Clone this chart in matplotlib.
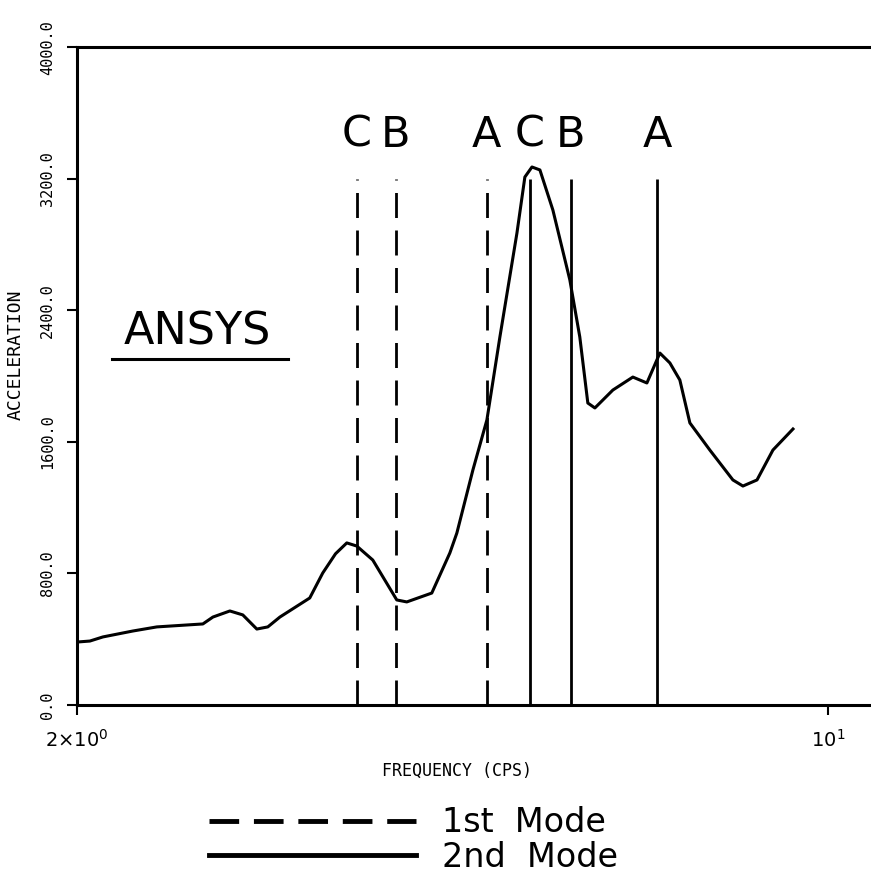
import matplotlib
matplotlib.use("Agg")
import matplotlib.pyplot as plt
from matplotlib.lines import Line2D

# response curve (frequency in cps, acceleration)
freq = [2.0, 2.056, 2.114, 2.254, 2.373, 2.619, 2.676, 2.775, 2.853, 2.940, 3.010,
        3.089, 3.293, 3.386, 3.480, 3.565, 3.642, 3.769, 3.968, 4.054, 4.277, 4.446, 4.513,
        4.671, 4.813, 4.949, 5.133, 5.221, 5.301, 5.392, 5.544, 5.749, 5.873, 5.975,
        6.066, 6.304, 6.580, 6.781, 6.972, 7.123, 7.277, 7.435, 7.760, 8.153, 8.330,
        8.585, 8.883, 9.273]
accel = [383, 389, 414, 450, 475, 493, 535, 572, 548, 462, 475,
         535, 651, 803, 920, 986, 967, 882, 639, 627, 681, 925, 1046,
         1430, 1734, 2239, 2871, 3212, 3273, 3255, 3011, 2586, 2239, 1837,
         1807, 1916, 1995, 1959, 2141, 2081, 1977, 1716, 1551, 1369, 1332,
         1369, 1551, 1679]

# mode frequencies for cases A, B, C
mode1_freq = [3.64, 3.96, 4.81]
mode1_lab = ['C', 'B', 'A']
mode2_freq = [5.28, 5.76, 6.93]
mode2_lab = ['C', 'B', 'A']
line_top = 3200

yticks = [0, 800, 1600, 2400, 3200, 4000]
ytick_labels = ['0.0', '800.0', '1600.0', '2400.0', '3200.0', '4000.0']
xticks = [2, 10]
xtick_labels = [r'$2{\times}10^{0}$', r'$10^{1}$']

fig = plt.figure(figsize=(8.71, 8.86), dpi=100)
ax = fig.add_axes([0.0884, 0.2043, 0.9116, 0.7421])

ax.plot(freq, accel, color='black', lw=2.2, solid_joinstyle='round')
ax.vlines(mode1_freq, 0, line_top, colors='black', lw=2, linestyles=(0, (9, 4.5)))
ax.vlines(mode2_freq, 0, line_top, colors='black', lw=2)

for f, s in zip(mode1_freq + mode2_freq, mode1_lab + mode2_lab):
    ax.text(f, 3470, s, ha='center', va='center', fontsize=31, family='DejaVu Sans')

ax.set_xscale('log')
ax.set_xlim(2, 10.96)
ax.set_ylim(0, 4000)
ax.set_xticks(xticks)
ax.set_xticklabels(xtick_labels, fontsize=14)
ax.minorticks_off()
ax.set_yticks(yticks)
ax.set_yticklabels(ytick_labels, rotation=90, va='center', fontsize=11, family='DejaVu Sans Mono')
ax.tick_params(axis='y', direction='out', length=7, width=1.5, pad=9)
ax.tick_params(axis='x', direction='out', length=7, width=1.5, pad=10)

for side in ['left', 'top', 'bottom']:
    ax.spines[side].set_linewidth(2.2)
ax.spines['right'].set_visible(False)

ax.set_xlabel('FREQUENCY (CPS)', fontsize=12, family='DejaVu Sans Mono')
ax.xaxis.set_label_coords(0.478, -0.087)
ax.set_ylabel('ACCELERATION', fontsize=13, family='DejaVu Sans Mono')
ax.yaxis.set_label_coords(-0.066, 0.532)

ax.text(0.151, 0.567, 'ANSYS', transform=ax.transAxes, ha='center', va='center',
        fontsize=32, family='DejaVu Sans')
ax.plot([0.044, 0.266], [0.526, 0.526], transform=ax.transAxes, color='black',
        lw=2.2, clip_on=False)

handles = [Line2D([], [], color='black', lw=3.5, linestyle=(0, (6.1, 3.04))),
           Line2D([], [], color='black', lw=3.5)]
fig.legend(handles, ['1st  Mode', '2nd  Mode'], loc='center',
           bbox_to_anchor=(0.475, 1 - 840 / 886), frameon=False, fontsize=24,
           handlelength=6.2, handletextpad=0.8, labelspacing=0.05)

fig.savefig('out.png', dpi=100)
